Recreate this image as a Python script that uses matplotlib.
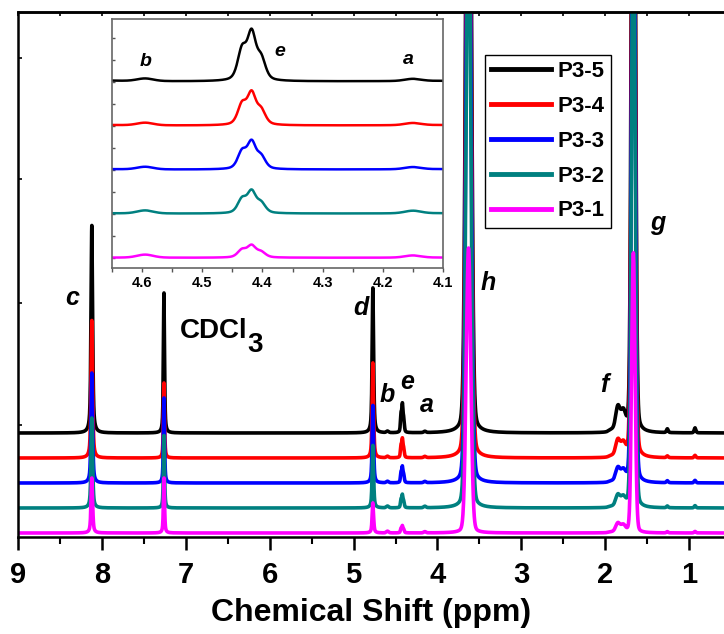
import numpy as np
import matplotlib
matplotlib.use('Agg')
import matplotlib.pyplot as plt
from matplotlib.ticker import MultipleLocator, NullFormatter

plt.rcParams['font.family'] = ['Liberation Sans', 'DejaVu Sans']
plt.rcParams['font.weight'] = 'bold'

# ---- data ----
samples = ['P3-5', 'P3-4', 'P3-3', 'P3-2', 'P3-1']
colors = ['black', '#ff0000', '#0000ff', '#008080', '#ff00ff']
offsets = [4, 3, 2, 1, 0]

# singlets: position (ppm) and height for each sample (P3-5 ... P3-1)
c_ppm = 8.12
c_height = [8.3, 5.5, 4.4, 3.6, 2.2]
cdcl3_ppm = 7.26
cdcl3_height = [5.6, 3.0, 3.4, 2.9, 2.2]
d_ppm = 4.77
d_height = [5.8, 3.8, 3.1, 2.5, 1.2]
b_ppm = 4.595
b_height = [0.06, 0.06, 0.06, 0.07, 0.07]
a_ppm = 4.15
a_height = [0.05, 0.05, 0.05, 0.06, 0.05]
h_ppm = 3.63
h_height = [40, 34, 30, 26, 11.4]
g_ppm = 1.665
g_height = [40, 34, 30, 26, 11.2]
m1_ppm = 1.26
m1_height = [0.15, 0.07, 0.08, 0.07, 0.05]
m2_ppm = 0.93
m2_height = [0.2, 0.1, 0.1, 0.09, 0.06]

# multiplets: line positions + relative size, and top height for each sample
e_ppm = [4.434, 4.418, 4.402]
e_rel = [0.65, 1.0, 0.45]
e_height = [1.2, 0.8, 0.68, 0.55, 0.3]
f_ppm = [1.93, 1.85, 1.785]
f_rel = [0.08, 1.0, 0.75]
f_height = [1.05, 0.72, 0.6, 0.52, 0.4]


def pv(x, x0, w, eta):
    # pseudo-voigt line, height 1
    lor = 1.0 / (1.0 + ((x - x0) / w) ** 2)
    gau = np.exp(-np.log(2) * ((x - x0) / w) ** 2)
    return eta * lor + (1 - eta) * gau


def multiplet(x, pos, rel, w, eta):
    s = sum(r * pv(x, p, w, eta) for p, r in zip(pos, rel))
    return s / s.max()


ppm = np.arange(0.5, 9.2, 0.0005)

spectra = []
for i in range(5):
    y = (c_height[i] * pv(ppm, c_ppm, 0.011, 0.6)
         + cdcl3_height[i] * pv(ppm, cdcl3_ppm, 0.008, 0.6)
         + d_height[i] * pv(ppm, d_ppm, 0.01, 0.6)
         + b_height[i] * pv(ppm, b_ppm, 0.016, 0.2)
         + a_height[i] * pv(ppm, a_ppm, 0.016, 0.2)
         + e_height[i] * multiplet(ppm, e_ppm, e_rel, 0.0085, 0.45)
         + h_height[i] * pv(ppm, h_ppm, 0.032, 0.12)
         + f_height[i] * multiplet(ppm, f_ppm, f_rel, 0.032, 0.2)
         + g_height[i] * pv(ppm, g_ppm, 0.024, 0.12)
         + m1_height[i] * pv(ppm, m1_ppm, 0.012, 0.3)
         + m2_height[i] * pv(ppm, m2_ppm, 0.012, 0.3))
    spectra.append(y + offsets[i])

W, H = 724, 634


def fx(x):
    return x / W


def fy(y):
    return 1 - y / H


fig = plt.figure(figsize=(7.24, 6.34), dpi=100)

# main plot
ax = fig.add_axes([fx(18), fy(537), fx(724 - 18), (537 - 12) / H])
for i in range(5):
    ax.plot(ppm, spectra[i], color=colors[i], lw=2.6, label=samples[i])
ax.set_xlim(9, 0.585)
ax.set_ylim(-0.16, 20.84)
ax.xaxis.set_major_locator(MultipleLocator(1))
ax.xaxis.set_minor_locator(MultipleLocator(0.5))
ax.set_yticks([4.32, 9.2, 14.16, 19.0])
ax.yaxis.set_major_formatter(NullFormatter())
ax.tick_params(axis='x', which='major', direction='out', length=9, width=1.8,
               labelsize=21, pad=8)
ax.tick_params(axis='x', which='minor', direction='out', length=5, width=1.5)
ax.tick_params(axis='y', direction='in', length=3, width=1.2)
for lab in ax.get_xticklabels():
    lab.set_fontweight('bold')
for s in ['left', 'top', 'bottom']:
    ax.spines[s].set_linewidth(1.8)
ax.spines['right'].set_visible(False)
top = ax.secondary_xaxis('top')
top.xaxis.set_major_locator(MultipleLocator(0.5))
top.tick_params(direction='in', length=3, width=1.2, labeltop=False)
top.spines['top'].set_linewidth(1.8)
ax.set_xlabel('Chemical Shift (ppm)', fontsize=23, fontweight='bold', labelpad=7)

ax.legend(loc='upper left', bbox_to_anchor=(fx(485), fy(55)), bbox_transform=fig.transFigure,
          borderaxespad=0, fancybox=False, edgecolor='black', framealpha=1,
          prop={'size': 16, 'weight': 'bold'}, handlelength=2.7, labelspacing=0.62,
          borderpad=0.28, handletextpad=0.3)
leg = ax.get_legend()
leg.get_frame().set_linewidth(1.0)
for ln in leg.get_lines():
    ln.set_linewidth(3.5)

# peak letters
lab_kw = dict(fontsize=18, fontweight='bold', style='italic', ha='center', va='center')
fig.text(fx(72), fy(298), 'c', **lab_kw)
fig.text(fx(361), fy(308), 'd', **lab_kw)
fig.text(fx(387), fy(395), 'b', **lab_kw)
fig.text(fx(407), fy(382), 'e', **lab_kw)
fig.text(fx(427), fy(405), 'a', **lab_kw)
fig.text(fx(488), fy(283), 'h', **lab_kw)
fig.text(fx(604), fy(385), 'f', **lab_kw)
fig.text(fx(658), fy(223), 'g', **lab_kw)
fig.text(fx(180), fy(331), 'CDCl', fontsize=20, fontweight='bold', ha='left', va='center')
fig.text(fx(247), fy(345), '3', fontsize=20, fontweight='bold', ha='left', va='center')

# inset, zoom on 4.1 - 4.65 ppm
ins = fig.add_axes([fx(112), fy(268), fx(443 - 112), (268 - 19) / H])
for i in range(5):
    ins.plot(ppm, spectra[i], color=colors[i], lw=1.8)
ins.set_xlim(4.65, 4.1)
ins.set_ylim(-0.23, 5.43)
ins.xaxis.set_major_locator(MultipleLocator(0.1))
ins.xaxis.set_minor_locator(MultipleLocator(0.05))
ins.yaxis.set_major_locator(MultipleLocator(0.5))
ins.yaxis.set_major_formatter(NullFormatter())
ins.tick_params(axis='x', which='both', direction='out', length=3, width=1, labelsize=10.5,
                pad=3, color='#555555')
ins.tick_params(axis='y', direction='in', length=2.5, width=1, color='#555555')
for lab in ins.get_xticklabels():
    lab.set_fontweight('bold')
for s in ins.spines.values():
    s.set_color('#666666')
    s.set_linewidth(1.2)
ins_kw = dict(fontsize=14, fontweight='bold', style='italic', ha='center', va='center')
fig.text(fx(146), fy(61), 'b', **ins_kw)
fig.text(fx(280), fy(52), 'e', **ins_kw)
fig.text(fx(408), fy(60), 'a', **ins_kw)

fig.savefig('out.png', dpi=100)
